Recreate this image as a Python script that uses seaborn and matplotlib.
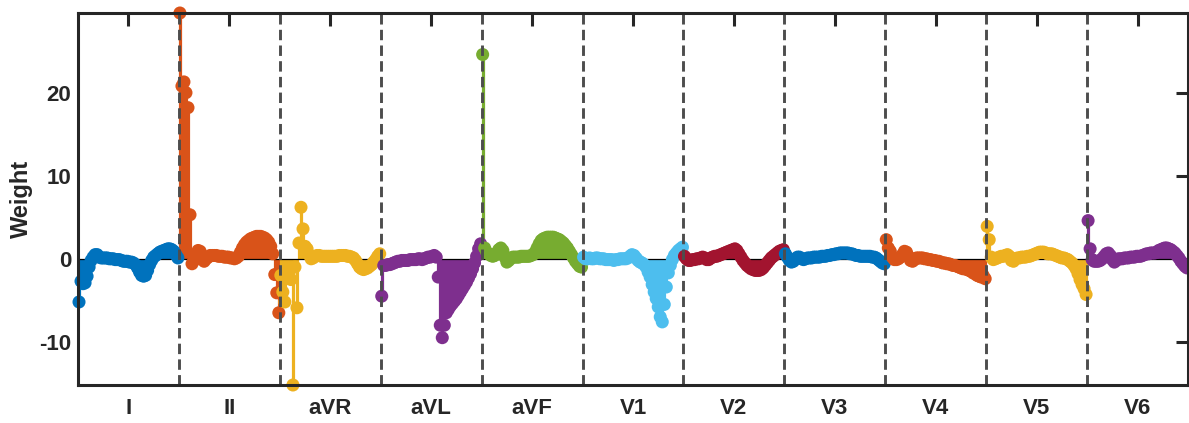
import numpy as np
import pandas as pd
import matplotlib
matplotlib.use("Agg")
import matplotlib.pyplot as plt
import seaborn as sns

# Lead names and the colour used for each lead's stems
leads = ["I", "II", "aVR", "aVL", "aVF", "V1", "V2", "V3", "V4", "V5", "V6"]
lead_colors = ["#0072BD", "#D95319", "#EDB120", "#7E2F8E", "#77AC30", "#4DBEEE",
               "#A2142F", "#0072BD", "#D95319", "#EDB120", "#7E2F8E"]

# Per-sample weights for each lead
w_I = [-5.2, -2.7, -3.0, -2.9, -2.1, -1.0, -0.2, 0.2, 0.5, 0.5,
       0.2, 0.1, 0.1, 0.1, 0.1, 0.0, 0.0, 0.0, -0.1, -0.1,
       -0.1, -0.2, -0.3, -0.3, -0.3, -0.4, -0.4, -0.5, -0.7, -1.1,
       -1.6, -2.0, -2.1, -2.0, -1.4, -0.7, -0.2, 0.2, 0.4, 0.6,
       0.8, 0.9, 1.0, 1.1, 1.2, 1.2, 1.1, 0.9, 0.5, 0.1]
w_II = [29.6, 20.8, 21.3, 20.0, 18.2, 5.3, -0.6, -0.2, 0.4, 1.0,
        0.9, 0.2, -0.3, 0.0, 0.2, 0.4, 0.4, 0.4, 0.4, 0.3,
        0.3, 0.3, 0.2, 0.2, 0.2, 0.1, 0.1, 0.0, 0.1, 0.3,
        0.8, 1.3, 1.7, 2.0, 2.2, 2.4, 2.5, 2.6, 2.7, 2.7,
        2.7, 2.6, 2.5, 2.3, 2.0, 1.5, 0.6, -1.9, -4.1, -6.5]
w_aVR = [-2.0, -4.0, -5.2, -2.3, -2.0, -2.5, -15.2, -1.0, -5.9, 1.9,
         6.2, 3.6, 1.5, 1.2, 0.5, 0.0, 0.1, 0.3, 0.4, 0.4,
         0.3, 0.3, 0.3, 0.3, 0.3, 0.3, 0.3, 0.3, 0.3, 0.4,
         0.4, 0.4, 0.4, 0.3, 0.3, 0.2, 0.1, -0.2, -0.6, -1.0,
         -1.2, -1.3, -1.2, -1.1, -0.9, -0.7, -0.4, -0.1, 0.3, 0.6]
w_aVL = [-4.5, -0.8, -0.8, -0.7, -0.7, -0.6, -0.5, -0.4, -0.3, -0.3,
         -0.2, -0.2, -0.2, -0.2, -0.1, -0.1, -0.1, -0.1, 0.0, 0.0,
         -0.1, 0.0, 0.1, 0.2, 0.2, 0.3, 0.4, 0.2, -2.2, -8.0,
         -9.5, -8.0, -6.5, -6.1, -5.7, -5.4, -5.1, -4.8, -4.4, -4.0,
         -3.6, -3.2, -2.8, -2.3, -1.8, -1.2, -0.5, 0.3, 1.2, 1.8]
w_aVF = [24.6, 1.3, 0.8, 0.6, 0.4, 0.3, 0.4, 0.7, 1.1, 1.3,
         1.0, 0.2, -0.4, -0.2, 0.1, 0.2, 0.2, 0.2, 0.2, 0.3,
         0.3, 0.3, 0.3, 0.3, 0.4, 0.5, 0.8, 1.3, 1.8, 2.2,
         2.4, 2.5, 2.6, 2.6, 2.6, 2.6, 2.5, 2.4, 2.3, 2.1,
         1.9, 1.6, 1.3, 0.9, 0.5, 0.1, -0.3, -0.6, -0.9, -1.0]
w_V1 = [0.2, 0.0, 0.0, 0.1, 0.0, 0.0, 0.1, 0.1, 0.0, 0.0,
        0.0, -0.1, -0.1, -0.1, -0.1, -0.2, -0.1, -0.1, 0.0, 0.0,
        0.0, 0.0, 0.1, 0.3, 0.5, 0.4, 0.1, -0.2, -0.4, -0.5,
        -0.7, -1.0, -1.6, -2.2, -3.1, -4.0, -4.8, -5.8, -7.0, -7.6,
        -5.5, -3.4, -1.7, -0.8, -0.1, 0.4, 0.7, 1.0, 1.2, 1.4]
w_V2 = [0.3, 0.0, -0.2, -0.2, -0.1, -0.1, 0.0, 0.0, 0.1, 0.2,
        0.1, -0.1, -0.1, 0.1, 0.2, 0.3, 0.3, 0.4, 0.5, 0.6,
        0.7, 0.8, 0.9, 1.0, 1.1, 1.2, 1.0, 0.6, 0.2, -0.2,
        -0.5, -0.8, -1.0, -1.2, -1.3, -1.4, -1.4, -1.4, -1.3, -1.1,
        -0.8, -0.5, -0.2, 0.1, 0.3, 0.5, 0.7, 0.9, 1.0, 1.1]
w_V3 = [0.6, 0.2, -0.2, -0.4, -0.3, 0.0, 0.2, 0.2, 0.0, -0.1,
        0.0, 0.1, 0.1, 0.1, 0.2, 0.2, 0.2, 0.2, 0.3, 0.3,
        0.3, 0.4, 0.4, 0.5, 0.5, 0.6, 0.6, 0.7, 0.7, 0.7,
        0.7, 0.7, 0.6, 0.6, 0.5, 0.4, 0.4, 0.3, 0.3, 0.3,
        0.3, 0.3, 0.3, 0.2, 0.2, 0.1, -0.1, -0.3, -0.5, -0.6]
w_V4 = [2.3, 1.3, 0.9, 0.2, -0.1, -0.1, 0.0, 0.2, 0.5, 0.9,
        0.8, 0.3, -0.2, -0.3, -0.1, 0.1, 0.1, 0.1, 0.1, 0.0,
        0.0, -0.1, -0.1, -0.2, -0.2, -0.3, -0.3, -0.4, -0.5, -0.5,
        -0.6, -0.6, -0.7, -0.8, -0.8, -0.9, -1.0, -1.1, -1.2, -1.2,
        -1.3, -1.4, -1.5, -1.7, -1.8, -2.0, -2.1, -2.2, -2.0, -2.4]
w_V5 = [3.9, 2.3, 0.2, -0.1, 0.0, 0.1, 0.2, 0.3, 0.3, 0.4,
        0.5, 0.3, -0.2, -0.3, 0.0, 0.1, 0.1, 0.2, 0.2, 0.2,
        0.3, 0.3, 0.4, 0.5, 0.6, 0.7, 0.8, 0.8, 0.8, 0.7,
        0.6, 0.6, 0.6, 0.5, 0.4, 0.3, 0.2, 0.1, 0.1, 0.0,
        -0.1, -0.3, -0.5, -0.8, -1.2, -1.8, -2.5, -3.1, -3.6, -4.3]
w_V6 = [4.6, 1.2, -0.1, -0.3, -0.3, -0.3, -0.2, 0.0, 0.3, 0.6,
        0.7, 0.4, -0.1, -0.4, -0.2, 0.0, 0.0, 0.0, 0.1, 0.1,
        0.1, 0.2, 0.2, 0.2, 0.3, 0.3, 0.3, 0.4, 0.5, 0.6,
        0.6, 0.7, 0.7, 0.7, 0.8, 1.0, 1.1, 1.2, 1.3, 1.3,
        1.2, 1.1, 0.9, 0.7, 0.4, 0.1, -0.3, -0.6, -0.9, -1.1]

weights = [w_I, w_II, w_aVR, w_aVL, w_aVF, w_V1, w_V2, w_V3, w_V4, w_V5, w_V6]
y_ticks = [-10, 0, 10, 20]

# Long-form table: one row per sample
frames = []
start = 0
for name, vals in zip(leads, weights):
    n = len(vals)
    frames.append(pd.DataFrame({"sample": np.arange(start + 1, start + n + 1),
                                "weight": vals, "lead": name}))
    start += n
df = pd.concat(frames, ignore_index=True)
sizes = np.array([len(v) for v in weights])
ends = np.cumsum(sizes)
centers = ends - sizes / 2 + 0.5
palette = dict(zip(leads, lead_colors))

sns.set_style("white")
ink = "#262626"
plt.rcParams["font.family"] = ["Liberation Sans", "DejaVu Sans"]
plt.rcParams["font.weight"] = "bold"
plt.rcParams["axes.unicode_minus"] = False
plt.rcParams["lines.scale_dashes"] = False

fig = plt.figure(figsize=(11.89, 4.23), dpi=100)
ax = fig.add_axes([78 / 1189, 1 - 385 / 423, 1110 / 1189, 372 / 423])

# stems, baseline, then the markers on top
ax.vlines(df["sample"], 0, df["weight"], colors=df["lead"].map(palette),
          linewidth=2.3, zorder=2)
ax.axhline(0, color="black", linewidth=0.9, zorder=2.5)
sns.scatterplot(data=df, x="sample", y="weight", hue="lead", palette=palette,
                s=88, linewidth=0, legend=False, ax=ax, zorder=3, clip_on=False)

# lead separators
for b in ends[:-1]:
    ax.axvline(b + 0.5, color="#4D4D4D", linewidth=2.1,
               linestyle=(0, (7.5, 3.8)), zorder=4)

ax.set_xlim(0.5, ends[-1] + 0.5)
ax.set_ylim(df["weight"].min(), df["weight"].max())
ax.set_xticks(centers)
ax.set_xticklabels(leads)
ax.set_yticks(y_ticks)
ax.set_yticklabels([str(t) for t in y_ticks])
ax.set_xlabel("")
ax.set_ylabel("Weight", fontsize=17, fontweight="bold", color=ink)
ax.yaxis.set_label_coords(-0.041, 0.5)

ax.tick_params(axis="both", direction="in", length=9, width=2.2, color=ink,
               labelcolor=ink, labelsize=16, top=True, right=True)
ax.tick_params(axis="x", pad=9)
ax.tick_params(axis="y", pad=5)
for lab in ax.get_xticklabels() + ax.get_yticklabels():
    lab.set_fontweight("bold")
for sp in ax.spines.values():
    sp.set_visible(True)
    sp.set_linewidth(2.2)
    sp.set_color(ink)
    sp.set_zorder(5)

fig.savefig("out.png", dpi=100)
